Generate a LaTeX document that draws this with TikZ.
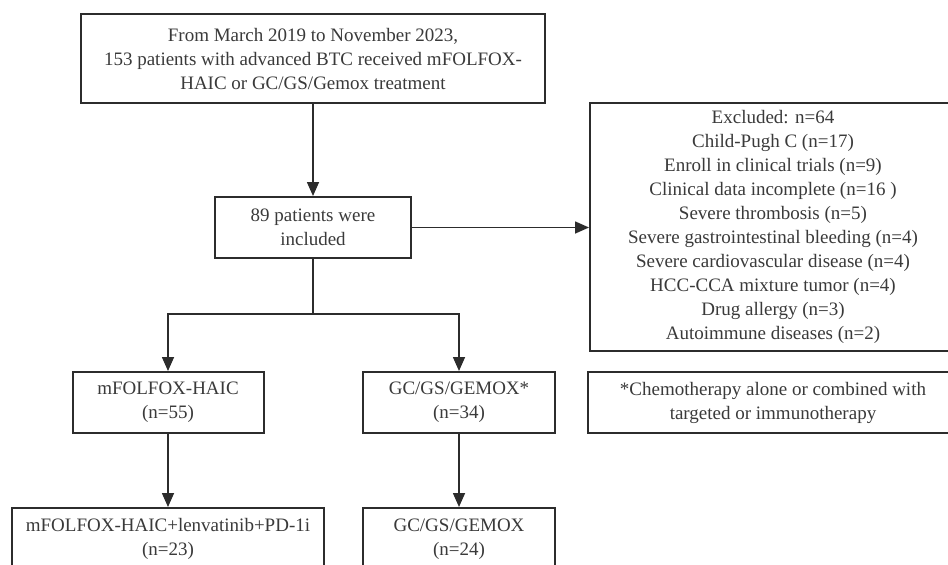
\documentclass[tikz,border=0pt]{standalone}
\usepackage{fontspec}
\setmainfont{Liberation Serif}
\usetikzlibrary{arrows.meta}
\definecolor{linec}{HTML}{2C2C2C}
\definecolor{textc}{HTML}{3A3A3A}
\begin{document}
\begin{tikzpicture}[x=1pt,y=-1pt,
  box/.style={draw=linec, line width=2pt, rectangle, inner sep=0pt, align=center,
    text=textc, font=\fontsize{19}{24}\selectfont},
  conn/.style={draw=linec, line width=1.6pt},
  arr/.style={conn, -{Triangle[length=14pt,width=12pt]}}]
\useasboundingbox (0,0) rectangle (948,565);
\fill[white] (0,0) rectangle (948,565);
\node[box, minimum width=464pt, minimum height=89pt] (top) at (313,58.5)
  {From March 2019 to November 2023,\\153 patients with advanced BTC received mFOLFOX-\\HAIC or GC/GS/Gemox treatment};
\node[box, minimum width=196pt, minimum height=61pt] (inc) at (313,227.5)
  {89 patients were\\included};
\node[box, minimum width=366pt, minimum height=248pt] (exc) at (773,227)
  {Excluded: n=64\\Child-Pugh C (n=17)\\Enroll in clinical trials (n=9)\\Clinical data incomplete (n=16 )\\Severe thrombosis (n=5)\\Severe gastrointestinal bleeding (n=4)\\Severe cardiovascular disease (n=4)\\HCC-CCA mixture tumor (n=4)\\Drug allergy (n=3)\\Autoimmune diseases (n=2)};
\node[box, minimum width=191pt, minimum height=61pt] (haic) at (168,402.5)
  {mFOLFOX-HAIC\\(n=55)};
\node[box, minimum width=192pt, minimum height=61pt] (gc) at (459,402.5)
  {GC/GS/GEMOX*\\(n=34)};
\node[box, minimum width=370pt, minimum height=61pt] (note) at (773,402.5)
  {*Chemotherapy alone or combined with\\targeted or immunotherapy};
\node[box, minimum width=312pt, minimum height=62pt] (haicL) at (168,539)
  {mFOLFOX-HAIC+lenvatinib+PD-1i\\(n=23)};
\node[box, minimum width=192pt, minimum height=62pt] (gcL) at (459,539)
  {GC/GS/GEMOX\\(n=24)};
\coordinate (split) at (313,314);
\draw[arr] (top.south) -- (inc.north);
\draw[arr] (inc.east) -- (inc.east -| exc.west);
\draw[conn] (inc.south) -- (split);
\draw[arr] (split) -| (haic.north);
\draw[arr] (split) -| (gc.north);
\draw[arr] (haic.south) -- (haicL.north);
\draw[arr] (gc.south) -- (gcL.north);
\end{tikzpicture}
\end{document}
